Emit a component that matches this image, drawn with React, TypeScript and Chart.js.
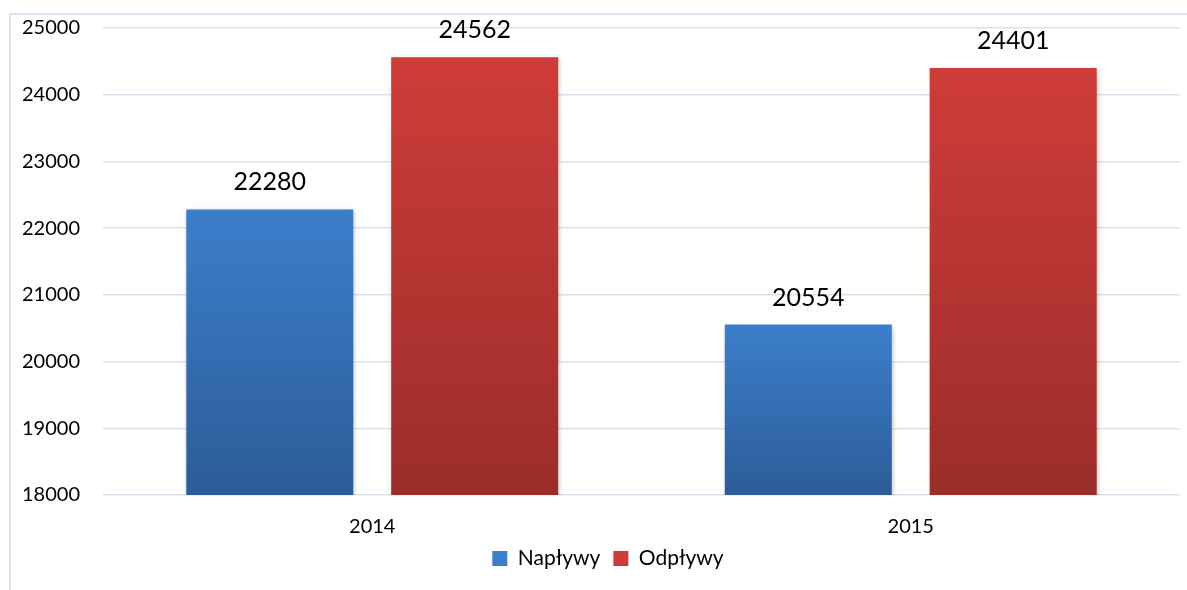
import React, { useEffect, useRef } from "react";
import { Chart, registerables } from "chart.js";

Chart.register(...registerables);

const categories = ["2014", "2015"];
const seriesNames = ["Napływy", "Odpływy"];
const naplywy = [22280, 20554];
const odplywy = [24562, 24401];
const yTicks = [18000, 19000, 20000, 21000, 22000, 23000, 24000, 25000];

const FONT = "Lato, 'Open Sans', sans-serif";
const gradColors = [
  ["#3c7ecb", "#2c5c98"],
  ["#ce3c39", "#9b2d2b"],
];

function barGradient(ctx: any, idx: number) {
  const chart = ctx.chart;
  const yScale = chart.scales?.y;
  if (!yScale || ctx.raw === undefined) return gradColors[idx][0];
  const top = yScale.getPixelForValue(ctx.raw);
  const bottom = yScale.getPixelForValue(yScale.min);
  if (!isFinite(top) || !isFinite(bottom) || top === bottom) return gradColors[idx][0];
  const g = chart.ctx.createLinearGradient(0, top, 0, bottom);
  g.addColorStop(0, gradColors[idx][0]);
  g.addColorStop(1, gradColors[idx][1]);
  return g;
}

const shadowPlugin = {
  id: "barShadow",
  afterLayout(chart: any) {
    if (chart.legend) {
      chart.legend.left += 13;
      chart.legend.right += 13;
    }
  },
  beforeDatasetsDraw(chart: any) {
    const c = chart.ctx;
    c.save();
    c.shadowColor = "rgba(0,0,0,0.28)";
    c.shadowBlur = 5;
    c.shadowOffsetX = 1;
    c.shadowOffsetY = 2;
  },
  afterDatasetsDraw(chart: any) {
    chart.ctx.restore();
  },
};

const labelPlugin = {
  id: "valueLabels",
  afterDatasetsDraw(chart: any) {
    const c = chart.ctx;
    c.save();
    c.font = `25px ${FONT}`;
    c.fillStyle = "#000";
    c.textAlign = "center";
    c.textBaseline = "alphabetic";
    chart.data.datasets.forEach((ds: any, di: number) => {
      const meta = chart.getDatasetMeta(di);
      meta.data.forEach((bar: any, i: number) => {
        c.fillText(String(ds.data[i]), bar.x, bar.y - 19);
      });
    });
    c.restore();
  },
};

export default function App() {
  const ref = useRef<HTMLCanvasElement>(null);
  useEffect(() => {
    if (!ref.current) return;
    const chart = new Chart(ref.current, {
      type: "bar",
      data: {
        labels: categories,
        datasets: [
          {
            label: seriesNames[0],
            data: naplywy,
            backgroundColor: (ctx: any) => barGradient(ctx, 0),
            categoryPercentage: 0.761,
            barPercentage: 0.815,
          },
          {
            label: seriesNames[1],
            data: odplywy,
            backgroundColor: (ctx: any) => barGradient(ctx, 1),
            categoryPercentage: 0.761,
            barPercentage: 0.815,
          },
        ],
      },
      options: {
        animation: false,
        responsive: false,
        maintainAspectRatio: false,
        layout: { padding: { left: 10, right: 7, top: 28, bottom: 11 } },
        scales: {
          x: {
            grid: { display: false, drawTicks: false },
            border: { display: false },
            ticks: { color: "#000", font: { family: FONT, size: 20 }, padding: 20 },
            afterFit: (scale: any) => {
              scale.height = 40;
            },
          },
          y: {
            min: 18000,
            max: 25000,
            afterBuildTicks: (scale: any) => {
              scale.ticks = yTicks.map((v) => ({ value: v }));
            },
            afterFit: (scale: any) => {
              scale.width = 93;
              scale.paddingTop = 0;
              scale.paddingBottom = 0;
            },
            grid: { color: "#d8e3f1", lineWidth: 1.5, drawTicks: false },
            border: { display: false },
            ticks: {
              color: "#000",
              font: { family: FONT, size: 20 },
              padding: 23,
              callback: (v: any) => String(v),
            },
          },
        },
        plugins: {
          legend: {
            position: "bottom",
            labels: {
              color: "#000",
              font: { family: FONT, size: 21 },
              boxWidth: 15,
              boxHeight: 15,
              padding: 13,
              generateLabels: (chart: any) =>
                chart.data.datasets.map((ds: any, i: number) => ({
                  text: ds.label,
                  fillStyle: gradColors[i][0],
                  strokeStyle: gradColors[i][0],
                  lineWidth: 0,
                  hidden: false,
                  datasetIndex: i,
                  fontColor: "#000",
                })),
            },
          },
          tooltip: { enabled: false },
        },
      },
      plugins: [shadowPlugin, labelPlugin],
    } as any);
    return () => chart.destroy();
  }, []);

  return (
    <div
      style={{
        position: "fixed",
        left: 0,
        top: 0,
        width: 1187,
        height: 590,
        overflow: "hidden",
        background: "#fff",
      }}
    >
      <div
        style={{
          position: "absolute",
          left: 9,
          top: 13,
          width: 1200,
          height: 600,
          border: "2px solid #dbe5f3",
          pointerEvents: "none",
        }}
      />
      <canvas
        ref={ref}
        width={1187}
        height={590}
        style={{ position: "absolute", left: 0, top: 0, width: 1187, height: 590 }}
      />
    </div>
  );
}
